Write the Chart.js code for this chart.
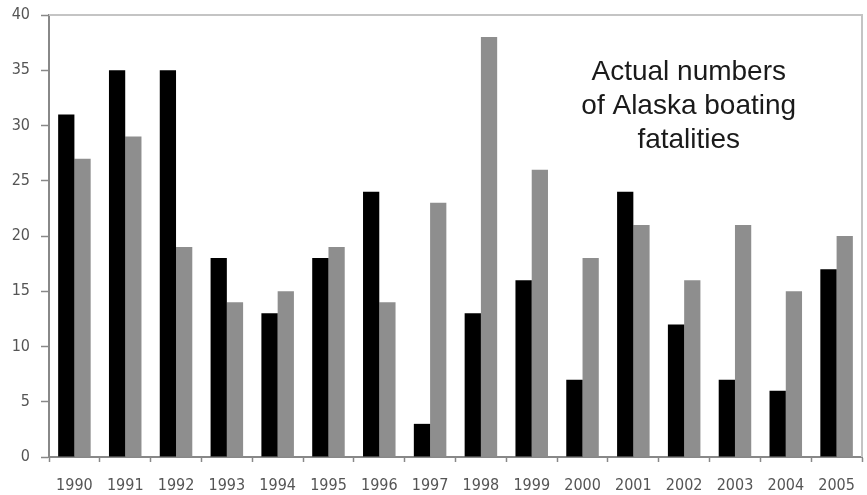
<!DOCTYPE html>
<html>
<head>
<meta charset="utf-8">
<script src="https://cdn.jsdelivr.net/npm/chart.js@4"></script>
<style>
html,body{margin:0;padding:0;background:#fff;}
#wrap{position:relative;width:867px;height:495px;}
</style>
</head>
<body>
<div id="wrap"><canvas id="c" width="867" height="495"></canvas></div>
<script>
const years = ["1990","1991","1992","1993","1994","1995","1996","1997","1998","1999","2000","2001","2002","2003","2004","2005"];
const seriesBlack = [31,35,35,18,13,18,24,3,13,16,7,24,12,7,6,17];
const seriesGray = [27,29,19,14,15,19,14,23,38,26,18,21,16,21,15,20];
const yTicks = [0,5,10,15,20,25,30,35,40];
const noteLines = ["Actual numbers","of Alaska boating","fatalities"];

const frame = {
  id: 'frame',
  beforeDatasetsDraw(chart) {
    const {ctx, chartArea:a} = chart;
    ctx.save();
    ctx.strokeStyle = '#c4c4c4';
    ctx.lineWidth = 2;
    ctx.beginPath();
    ctx.moveTo(a.left, a.top);
    ctx.lineTo(a.right, a.top);
    ctx.lineTo(a.right, a.bottom);
    ctx.stroke();
    ctx.restore();
  },
  afterDraw(chart) {
    const {ctx, chartArea:a} = chart;
    const x = chart.scales.x;
    ctx.save();
    ctx.fillStyle = '#1a1a1a';
    ctx.font = '28px "Liberation Sans", Arial, sans-serif';
    ctx.textAlign = 'center';
    ctx.textBaseline = 'alphabetic';
    const cx = (x.getPixelForValue(11) + x.getPixelForValue(12)) / 2 + 30;
    const offs = [65, 99, 133];
    noteLines.forEach((t, i) => ctx.fillText(t, cx, a.top + offs[i]));
    ctx.restore();
  }
};

const tickFont = {family: '"DejaVu Sans Condensed", "Liberation Sans Narrow", Arial', size: 16};

new Chart(document.getElementById('c'), {
  type: 'bar',
  data: {
    labels: years,
    datasets: [
      {label: 'A', data: seriesBlack, backgroundColor: '#000000', categoryPercentage: 0.64, barPercentage: 1.0},
      {label: 'B', data: seriesGray, backgroundColor: '#8e8e8e', categoryPercentage: 0.64, barPercentage: 1.0}
    ]
  },
  options: {
    responsive: false,
    animation: false,
    layout: {padding: {left: 0, right: 5, top: 15, bottom: 0}},
    plugins: {legend: {display: false}, tooltip: {enabled: false}, title: {display: false}},
    scales: {
      x: {
        offset: true,
        grid: {display: true, offset: true, drawOnChartArea: false, color: '#888', tickLength: 5, tickWidth: 1.5},
        border: {display: true, color: '#888', width: 2},
        ticks: {color: '#555', font: tickFont, padding: 14, maxRotation: 0, autoSkip: false},
        afterFit(s) { s.height = 38; s.paddingLeft = 0; s.paddingRight = 0; }
      },
      y: {
        min: 0, max: 40,
        afterBuildTicks(s) { s.ticks = yTicks.map(v => ({value: v})); },
        grid: {display: true, drawOnChartArea: false, color: '#888', tickLength: 8, tickWidth: 1.5},
        border: {display: true, color: '#888', width: 2},
        ticks: {color: '#555', font: tickFont, padding: 11},
        afterFit(s) { s.width = 49; s.paddingTop = 0; s.paddingBottom = 0; }
      }
    }
  },
  plugins: [frame]
});
</script>
</body>
</html>
